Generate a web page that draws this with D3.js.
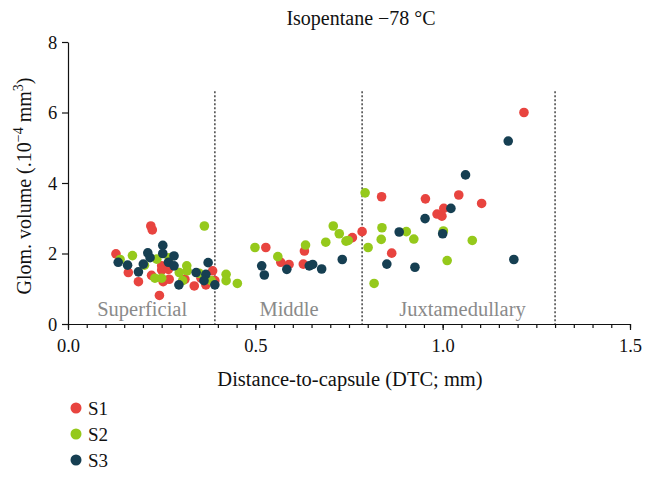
<!DOCTYPE html>
<html><head><meta charset="utf-8">
<script src="https://cdn.jsdelivr.net/npm/d3@7"></script>
<style>body{margin:0;background:#fff}svg{display:block}text{font-family:"Liberation Serif","DejaVu Serif",serif}</style>
</head><body><svg id="c" width="651" height="477"></svg>
<script>
const seriesNames = ["S1","S2","S3"];
const seriesColors = ["#e8443f","#95c91b","#163f52"];
const s1x = [0.221,0.225,0.128,0.161,0.188,0.223,0.250,0.250,0.268,0.254,0.270,0.244,0.312,0.337,0.355,0.368,0.386,0.392,0.528,0.568,0.590,0.631,0.628,0.759,0.785,0.837,0.954,1.043,1.104,1.003,0.985,0.998,0.864,1.217];
const s1y = [2.78,2.67,1.99,1.46,1.20,1.38,1.65,1.53,1.55,1.20,1.27,0.81,1.27,1.08,1.30,1.11,1.51,1.23,2.17,1.75,1.69,2.07,1.70,2.45,2.62,3.61,3.55,3.66,3.42,3.28,3.12,3.06,2.01,6.00];
const s2x = [0.364,0.139,0.172,0.204,0.237,0.270,0.232,0.250,0.297,0.317,0.318,0.306,0.350,0.382,0.422,0.422,0.452,0.499,0.560,0.634,0.688,0.708,0.724,0.742,0.748,0.801,0.817,0.793,0.838,0.836,0.903,0.923,1.002,1.079,1.012];
const s2y = [2.78,1.83,1.94,1.67,1.84,1.88,1.30,1.30,1.46,1.65,1.51,1.23,1.44,1.23,1.41,1.23,1.15,2.17,1.91,2.24,2.32,2.78,2.56,2.35,2.37,2.17,1.15,3.72,2.73,2.40,2.62,2.41,2.64,2.37,1.80];
const s3x = [0.134,0.159,0.188,0.201,0.213,0.219,0.253,0.253,0.268,0.283,0.283,0.296,0.342,0.368,0.374,0.363,0.392,0.517,0.524,0.584,0.644,0.653,0.677,0.732,0.884,0.851,0.926,0.953,1.000,1.022,1.061,1.175,1.190];
const s3y = [1.75,1.67,1.48,1.70,2.02,1.88,2.23,2.00,1.75,1.93,1.65,1.11,1.46,1.41,1.74,1.23,1.11,1.65,1.39,1.55,1.65,1.69,1.56,1.83,2.61,1.70,1.61,2.99,2.56,3.28,4.23,5.19,1.83];
const xTicks = [0, 0.5, 1.0, 1.5];
const yTicks = [0, 2, 4, 6, 8];
const zoneBounds = [0.392, 0.785, 1.30];
const zoneTop = 6.6;
const zoneLabels = [{t:"Superficial", x:0.198},{t:"Middle", x:0.59},{t:"Juxtamedullary", x:1.053}];

const FONT = "Liberation Serif, DejaVu Serif, serif";
const svg = d3.select("#c");
const x = d3.scaleLinear().domain([0,1.5]).range([68,630]);
const y = d3.scaleLinear().domain([0,8]).range([324,42]);

// title
svg.append("text").attr("x",361).attr("y",25).attr("text-anchor","middle").attr("font-family",FONT).attr("font-size",20).attr("fill","#111").text("Isopentane \u221278 \u00B0C");

// zone lines
svg.selectAll("line.zone").data(zoneBounds).join("line").attr("class","zone")
  .attr("x1",d=>x(d)).attr("x2",d=>x(d)).attr("y1",y(zoneTop)).attr("y2",y(0))
  .attr("stroke","#444").attr("stroke-width",1.5).attr("stroke-dasharray","2,2");
svg.selectAll("text.zone").data(zoneLabels).join("text").attr("class","zone")
  .attr("x",d=>x(d.x)).attr("y",316).attr("text-anchor","middle").attr("font-family",FONT).attr("font-size",20.5).attr("fill","#8a8a8a").text(d=>d.t);

// points
const series = [ [s1x,s1y], [s2x,s2y], [s3x,s3y] ];
series.forEach((s,i)=>{
  svg.append("g").selectAll("circle").data(s[0].map((v,j)=>[v,s[1][j]])).join("circle")
    .attr("cx",d=>x(d[0])).attr("cy",d=>y(d[1])).attr("r",4.8).attr("fill",seriesColors[i]);
});

// axes
const xa = svg.append("g").attr("transform","translate(0,324)")
  .call(d3.axisBottom(x).tickValues(xTicks).tickFormat(d3.format(".1f")).tickSize(6).tickSizeOuter(0));
const xm = svg.append("g").attr("transform","translate(0,324)")
  .call(d3.axisBottom(x).tickValues(d3.range(0,1.5001,0.05)).tickFormat("").tickSize(4).tickSizeOuter(0));
xm.select(".domain").remove();
const ya = svg.append("g").attr("transform","translate(68,0)")
  .call(d3.axisLeft(y).tickValues(yTicks).tickFormat(d3.format("d")).tickSize(6).tickSizeOuter(0));
[xa,xm,ya].forEach(g=>{
  g.attr("font-family",FONT);
  g.selectAll("path,line").attr("stroke","#111").attr("stroke-width",1.2);
  g.selectAll("text").attr("font-size",18.5).attr("fill","#111").attr("font-family",FONT);
});
xa.selectAll("text").attr("dy","1.05em");
ya.selectAll("text").attr("dx","-0.1em").attr("dy","0.35em");

// axis titles
svg.append("text").attr("x",350).attr("y",386).attr("text-anchor","middle").attr("font-family",FONT).attr("font-size",20.5).attr("fill","#111").text("Distance-to-capsule (DTC; mm)");
const yl = svg.append("text").attr("transform","translate(31,186) rotate(-90)").attr("text-anchor","middle").attr("font-family",FONT).attr("font-size",20).attr("fill","#111");
yl.append("tspan").text("Glom. volume (.10");
yl.append("tspan").attr("dy",-8).attr("font-size",14).text("\u22124");
yl.append("tspan").attr("dy",8).text(" mm");
yl.append("tspan").attr("dy",-8).attr("font-size",14).text("3");
yl.append("tspan").attr("dy",8).text(")");

// legend
const lg = svg.append("g").selectAll("g").data(seriesNames).join("g").attr("transform",(d,i)=>`translate(76,${408+i*26})`);
lg.append("circle").attr("r",5.5).attr("fill",(d,i)=>seriesColors[i]);
lg.append("text").attr("x",12).attr("y",6.5).attr("font-family",FONT).attr("font-size",19).attr("fill","#111").text(d=>d);
</script></body></html>
